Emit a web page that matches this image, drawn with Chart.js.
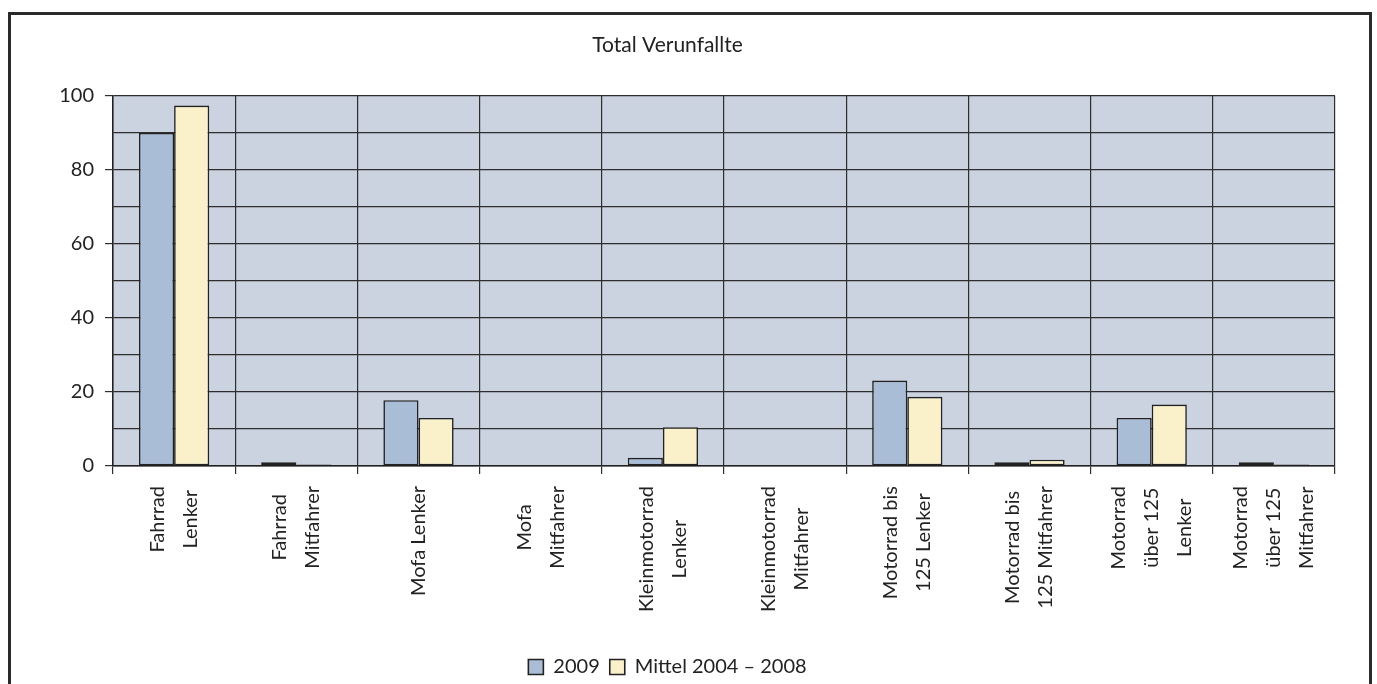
<!DOCTYPE html>
<html>
<head>
<meta charset="utf-8">
<script src="https://cdn.jsdelivr.net/npm/chart.js@4"></script>
<style>
  html, body { margin: 0; padding: 0; background: #fff; overflow: hidden; }
  #wrap { position: absolute; left: 0; top: 0; width: 1377px; height: 690px; }
  #frame { position: absolute; left: 8px; top: 12px; width: 1358px; height: 720px; border: 3px solid #2a2a2a; pointer-events: none; }
</style>
</head>
<body>
<div id="wrap"><canvas id="chart" width="1377" height="690"></canvas></div>
<div id="frame"></div>
<script>
const categories = [
  ['Fahrrad', 'Lenker'],
  ['Fahrrad', 'Mitfahrer'],
  ['Mofa Lenker'],
  ['Mofa', 'Mitfahrer'],
  ['Kleinmotorrad', 'Lenker'],
  ['Kleinmotorrad', 'Mitfahrer'],
  ['Motorrad bis', '125 Lenker'],
  ['Motorrad bis', '125 Mitfahrer'],
  ['Motorrad', 'über 125', 'Lenker'],
  ['Motorrad', 'über 125', 'Mitfahrer']
];
const values2009 = [90, 1, 17.8, 0, 2.2, 0, 23.1, 1, 13, 1];
const valuesMittel = [97.4, 0.4, 13, 0, 10.5, 0, 18.7, 1.7, 16.6, 0.4];
const seriesNames = ['2009', 'Mittel 2004 \u2013 2008'];
const chartTitle = 'Total Verunfallte';

const FONT = 'Lato';
const FS = 20;
const INK = '#222222';

const plotBg = {
  id: 'plotBg',
  beforeDraw(chart) {
    const {ctx, chartArea: a} = chart;
    ctx.save();
    ctx.fillStyle = '#CBD2E0';
    ctx.fillRect(a.left, a.top, a.right - a.left, a.bottom - a.top);
    ctx.restore();
  }
};

// category labels: rotated, lines centred in a top-aligned block
const catLabels = {
  id: 'catLabels',
  afterDraw(chart) {
    const {ctx} = chart;
    const x = chart.scales.x;
    const lh = 33;
    const top = x.top + 20;
    ctx.save();
    ctx.font = FS + 'px "' + FONT + '"';
    ctx.fillStyle = INK;
    ctx.textAlign = 'center';
    ctx.textBaseline = 'middle';
    categories.forEach((lines, i) => {
      const px = x.getPixelForTick(i);
      const maxW = Math.max(...lines.map(l => ctx.measureText(l).width));
      lines.forEach((l, j) => {
        ctx.save();
        ctx.translate(px + (j - (lines.length - 1) / 2) * lh, top + maxW / 2);
        ctx.rotate(-Math.PI / 2);
        ctx.fillText(l, 0, 0);
        ctx.restore();
      });
    });
    ctx.restore();
  }
};

const ctx = document.querySelector('#chart').getContext('2d');
const myChart = new Chart(ctx, {
  type: 'bar',
  data: {
    labels: categories,
    datasets: [{
      label: seriesNames[0],
      data: values2009,
      backgroundColor: '#A9BDD7',
      borderColor: INK,
      borderWidth: 1.6,
      borderSkipped: false
    }, {
      label: seriesNames[1],
      data: valuesMittel,
      backgroundColor: '#FAF1CB',
      borderColor: INK,
      borderWidth: 1.6,
      borderSkipped: false
    }]
  },
  options: {
    responsive: false,
    animation: false,
    categoryPercentage: 0.575,
    barPercentage: 1,
    layout: { padding: { left: 0, right: 42, top: 20, bottom: 3 } },
    plugins: {
      title: {
        display: true,
        text: chartTitle,
        color: INK,
        font: { family: FONT, size: 21, weight: 'normal' },
        padding: { top: 13, bottom: 37.8 }
      },
      legend: {
        position: 'bottom',
        labels: {
          color: INK,
          font: { family: FONT, size: FS },
          boxWidth: 15,
          boxHeight: 15,
          padding: 10
        }
      },
      tooltip: { enabled: false }
    },
    scales: {
      x: {
        ticks: { display: false },
        grid: { color: '#2e2e2e', lineWidth: 1.2, tickLength: 8, offset: true },
        border: { color: INK, width: 1.5 },
        afterFit: s => { s.height = 181; }
      },
      y: {
        min: 0,
        max: 100,
        ticks: {
          stepSize: 10,
          color: INK,
          padding: 11,
          font: { family: FONT, size: FS },
          callback: v => (v % 20 === 0 ? v : '')
        },
        grid: {
          color: '#2e2e2e',
          lineWidth: 1.2,
          tickLength: 8,
          tickColor: c => (c.tick && c.tick.value % 20 === 0 ? '#2e2e2e' : 'rgba(0,0,0,0)')
        },
        border: { color: INK, width: 1.5 },
        afterFit: s => { s.width = 113; }
      }
    }
  },
  plugins: [plotBg, catLabels]
});
</script>
</body>
</html>
